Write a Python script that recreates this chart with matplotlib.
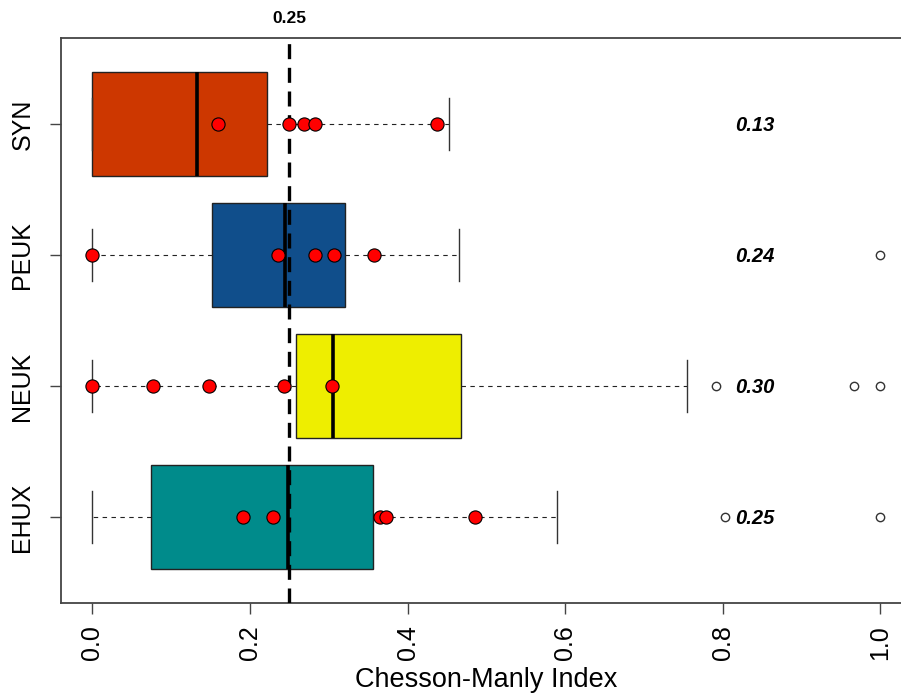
import numpy as np
import matplotlib
matplotlib.use("Agg")
import matplotlib.pyplot as plt

plt.rcParams['font.family'] = ['Liberation Sans', 'DejaVu Sans']

# groups, bottom to top
groups = ['EHUX', 'NEUK', 'PEUK', 'SYN']
box_colors = ['#008B8B', '#EEEE00', '#104E8B', '#CD3700']

# box statistics
whislo = [0.0, 0.0, 0.0, 0.0]
q1 = [0.075, 0.259, 0.152, 0.0]
med = [0.248, 0.305, 0.244, 0.133]
q3 = [0.356, 0.468, 0.321, 0.221]
whishi = [0.590, 0.755, 0.465, 0.453]
fliers = [[0.803, 1.0], [0.791, 0.967, 1.0], [1.0], []]

# highlighted (red) observations
red_pts = [
    [0.191, 0.229, 0.3655, 0.372, 0.485],
    [0.0, 0.0765, 0.1485, 0.243, 0.3046],
    [0.0, 0.236, 0.282, 0.307, 0.357],
    [0.159, 0.25, 0.269, 0.282, 0.437],
]

median_labels = ['0.25', '0.30', '0.24', '0.13']
ref_value = 0.25
label_x = 0.84

fig = plt.figure(figsize=(9.01, 6.95), dpi=100)
ax = fig.add_axes([60.8 / 901, 1 - 603.3 / 695, (912 - 60.8) / 901, (603.3 - 37.7) / 695])

pos = np.arange(1, len(groups) + 1)
stats = []
for i in range(len(groups)):
    stats.append(dict(whislo=whislo[i], q1=q1[i], med=med[i], q3=q3[i],
                      whishi=whishi[i], fliers=fliers[i]))

bp = ax.bxp(stats, positions=pos, vert=False, widths=0.8, capwidths=0.4,
            patch_artist=True, showfliers=True,
            boxprops=dict(edgecolor='#222222', linewidth=1.0, zorder=2),
            medianprops=dict(color='black', linewidth=2.6, solid_capstyle='butt', zorder=2.5),
            whiskerprops=dict(color='#222222', linewidth=0.8, linestyle=(0, (4, 4))),
            capprops=dict(color='#333333', linewidth=1.0),
            flierprops=dict(marker='o', markersize=6, markerfacecolor='white',
                            markeredgecolor='#333333', markeredgewidth=1.0))
for patch, c in zip(bp['boxes'], box_colors):
    patch.set_facecolor(c)

ax.axvline(ref_value, color='black', linewidth=2.4, linestyle=(0, (4.5, 2.6)), zorder=3)

for i, pts in enumerate(red_pts):
    ax.plot(pts, [pos[i]] * len(pts), 'o', color='red', markersize=9.5,
            markeredgecolor='black', markeredgewidth=0.8, zorder=4)
    ax.text(label_x, pos[i] - 0.01, median_labels[i], ha='center', va='center',
            fontsize=14.5, fontweight='bold', fontstyle='italic', zorder=5)

ax.text(ref_value, 1.0255, f'{ref_value:.2f}', transform=ax.get_xaxis_transform(),
        ha='center', va='baseline', fontsize=12.5, fontweight='bold')

ax.set_xlim(-0.04, 1.04)
ax.set_ylim(0.34, 4.66)
ax.set_xticks([0.0, 0.2, 0.4, 0.6, 0.8, 1.0])
ax.set_xticklabels(['0.0', '0.2', '0.4', '0.6', '0.8', '1.0'], rotation=90, fontsize=18)
ax.set_yticks(pos)
ax.set_yticklabels(groups, rotation=90, fontsize=18, va='center')
ax.tick_params(axis='x', length=8, width=1.0, color='#444444', pad=8)
ax.tick_params(axis='y', length=8, width=1.0, color='#444444', pad=11)
for s in ax.spines.values():
    s.set_color('#444444')
    s.set_linewidth(1.3)

fig.text(486 / 901, 1 - 687 / 695, 'Chesson-Manly Index', ha='center', va='baseline', fontsize=19.5)

fig.savefig('out.png', dpi=100)
